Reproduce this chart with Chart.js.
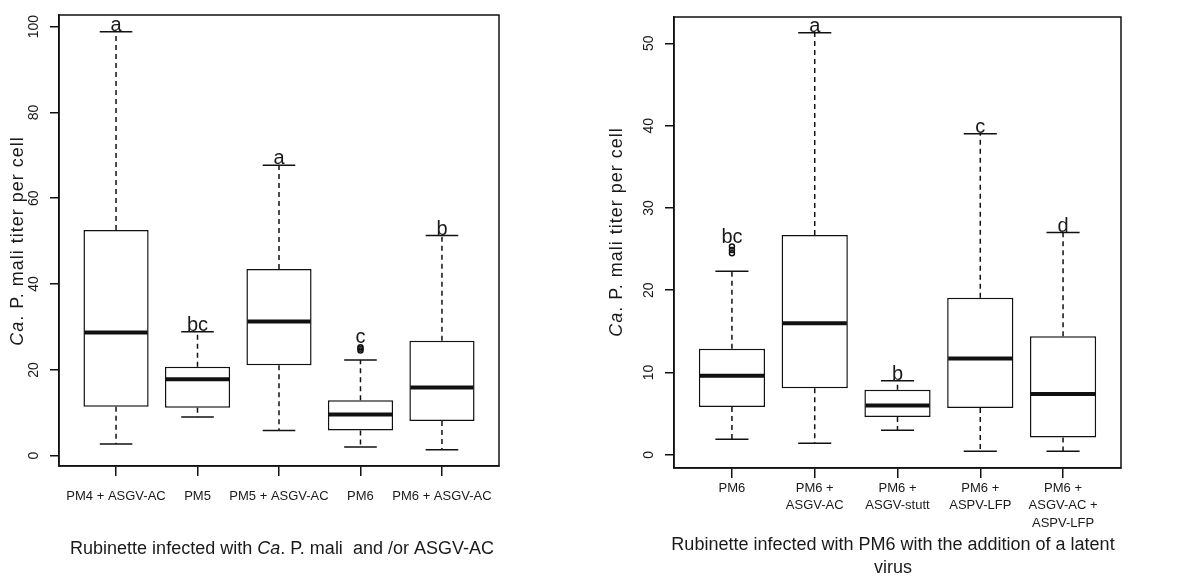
<!DOCTYPE html>
<html lang="en">
<head>
<meta charset="UTF-8">
<title>Ca. P. mali titer per cell</title>
<script src="https://cdn.jsdelivr.net/npm/chart.js"></script>
<style>
    body, html {
        margin: 0;
        padding: 0;
        background: #fff;
    }
    .panel {
        position: absolute;
        top: 0;
        height: 579px;
    }
    #left { left: 0; width: 600px; }
    #right { left: 600px; width: 593px; }
</style>
</head>
<body>
<div class="panel" id="left"><canvas id="chartLeft"></canvas></div>
<div class="panel" id="right"><canvas id="chartRight"></canvas></div>
<script>
// Left panel: Rubinette infected with Ca. P. mali and/or ASGV-AC
const leftCategories = ['PM4 + ASGV-AC', 'PM5', 'PM5 + ASGV-AC', 'PM6', 'PM6 + ASGV-AC'];
const leftLower    = [2.7, 9.0, 5.9, 2.0, 1.4];
const leftQ1       = [11.4, 11.2, 21.1, 5.9, 8.1];
const leftMedian   = [28.7, 17.8, 31.3, 9.6, 15.9];
const leftQ3       = [52.6, 20.7, 43.5, 12.9, 26.8];
const leftUpper    = [98.8, 28.9, 67.7, 22.3, 51.3];
const leftOutliers = [[], [], [], [25.3, 24.9, 24.5], []];
const leftLetters  = ['a', 'bc', 'a', 'c', 'b'];
const leftYTicks   = [0, 20, 40, 60, 80, 100];

// Right panel: PM6 with the addition of a latent virus
const rightCategories = [['PM6'], ['PM6 +', 'ASGV-AC'], ['PM6 +', 'ASGV-stutt'], ['PM6 +', 'ASPV-LFP'], ['PM6 +', 'ASGV-AC +', 'ASPV-LFP']];
const rightLower    = [1.9, 1.4, 3.0, 0.45, 0.45];
const rightQ1       = [5.8, 8.1, 4.6, 5.7, 2.1];
const rightMedian   = [9.6, 16.0, 6.0, 11.7, 7.4];
const rightQ3       = [12.9, 26.7, 7.9, 19.1, 14.4];
const rightUpper    = [22.3, 51.3, 9.0, 39.0, 27.0];
const rightOutliers = [[25.3, 24.9, 24.5], [], [], [], []];
const rightLetters  = ['bc', 'a', 'b', 'c', 'd'];
const rightYTicks   = [0, 10, 20, 30, 40, 50];

const ink = '#111111';
const family = "'Liberation Sans', Arial, sans-serif";

function drawRich(ctx, parts, x, y, angle, size, spacing) {
    ctx.save();
    ctx.translate(x, y);
    ctx.rotate(angle);
    ctx.textBaseline = 'middle';
    ctx.textAlign = 'left';
    ctx.fillStyle = '#1a1a1a';
    if ('letterSpacing' in ctx) ctx.letterSpacing = spacing + 'px';
    let total = 0;
    parts.forEach(([t, it]) => {
        ctx.font = (it ? 'italic ' : '') + size + 'px ' + family;
        total += ctx.measureText(t).width;
    });
    let pos = -total / 2;
    parts.forEach(([t, it]) => {
        ctx.font = (it ? 'italic ' : '') + size + 'px ' + family;
        ctx.fillText(t, pos, 0);
        pos += ctx.measureText(t).width;
    });
    ctx.restore();
}

const boxExtras = {
    id: 'boxExtras',
    afterDatasetsDraw(chart, args, o) {
        const {ctx, chartArea, scales: {x, y}} = chart;
        const bars = chart.getDatasetMeta(0).data;
        const line = (x1, y1, x2, y2) => {
            ctx.beginPath(); ctx.moveTo(x1, y1); ctx.lineTo(x2, y2); ctx.stroke();
        };
        ctx.save();
        ctx.strokeStyle = ink;
        ctx.fillStyle = '#1a1a1a';
        o.median.forEach((m, i) => {
            const cx = x.getPixelForValue(i + 1);
            const half = bars[i].width / 2;
            const yUp = y.getPixelForValue(o.upper[i]);
            const yLo = y.getPixelForValue(o.lower[i]);
            ctx.lineWidth = 1.5;
            // dashed whiskers
            ctx.setLineDash([5, 4]);
            line(cx, y.getPixelForValue(o.q3[i]), cx, yUp);
            line(cx, y.getPixelForValue(o.q1[i]), cx, yLo);
            ctx.setLineDash([]);
            // staples
            line(cx - half / 2, yUp, cx + half / 2, yUp);
            line(cx - half / 2, yLo, cx + half / 2, yLo);
            // median
            ctx.lineWidth = 4;
            const ym = y.getPixelForValue(m);
            line(cx - half + 1, ym, cx + half - 1, ym);
            // outliers
            ctx.lineWidth = 1.5;
            o.outliers[i].forEach(v => {
                ctx.beginPath();
                ctx.arc(cx, y.getPixelForValue(v), 2.5, 0, Math.PI * 2);
                ctx.stroke();
            });
            // significance letters
            const top = Math.max(o.upper[i], ...o.outliers[i]);
            const extra = o.outliers[i].length ? 3 : 0;
            ctx.font = '20px ' + family;
            ctx.textAlign = 'center';
            ctx.textBaseline = 'alphabetic';
            ctx.fillText(o.letters[i], cx, y.getPixelForValue(top) - 1 - extra);
        });
        ctx.lineWidth = 1.5;
        ctx.strokeRect(chartArea.left, chartArea.top, chartArea.width, chartArea.height);
        ctx.restore();
    },
    afterDraw(chart, args, o) {
        const ctx = chart.ctx;
        o.xTitle.forEach((parts, k) => drawRich(ctx, parts, o.xTitleX, o.xTitleY + k * 23, 0, 18, 0));
        drawRich(ctx, o.yTitle, o.yTitleX, o.yTitleY, -Math.PI / 2, 18, 1);
    }
};

function makeChart(id, p) {
    const ctx = document.getElementById(id).getContext('2d');
    return new Chart(ctx, {
        type: 'bar',
        data: {
            datasets: [{
                data: p.categories.map((c, i) => ({x: i + 1, y: [p.q1[i], p.q3[i]]})),
                backgroundColor: '#ffffff',
                borderColor: ink,
                borderWidth: 1.5,
                borderSkipped: false,
                barPercentage: 0.8,
                categoryPercentage: 1
            }]
        },
        options: {
            responsive: true,
            maintainAspectRatio: false,
            animation: false,
            layout: {padding: p.padding},
            plugins: {
                legend: {display: false},
                tooltip: {enabled: false},
                boxExtras: {
                    median: p.median, q1: p.q1, q3: p.q3, upper: p.upper, lower: p.lower,
                    outliers: p.outliers, letters: p.letters,
                    xTitle: p.xTitle, xTitleX: p.xTitleX, xTitleY: p.xTitleY,
                    yTitle: [['Ca', true], ['. P. mali titer per cell', false]],
                    yTitleX: p.yTitleX, yTitleY: p.yTitleY
                }
            },
            scales: {
                x: {
                    type: 'linear',
                    min: 0.3,
                    max: 5.7,
                    offset: false,
                    afterBuildTicks: s => { s.ticks = p.categories.map((c, i) => ({value: i + 1})); },
                    afterFit: s => { s.height = p.xHeight; },
                    grid: {offset: false, drawOnChartArea: false, tickLength: 10, color: ink, lineWidth: 1.5},
                    border: {display: true, color: ink, width: 1.5},
                    ticks: {
                        color: '#1a1a1a',
                        font: {family: family, size: 13, lineHeight: 1.38},
                        padding: p.xPad,
                        maxRotation: 0,
                        autoSkip: false,
                        callback: v => p.categories[v - 1]
                    }
                },
                y: {
                    min: p.yMin,
                    max: p.yMax,
                    afterBuildTicks: s => { s.ticks = p.yTicks.map(v => ({value: v})); },
                    afterFit: s => { s.width = p.yWidth; },
                    grid: {drawOnChartArea: false, tickLength: 9, color: ink, lineWidth: 1.5},
                    border: {display: true, color: ink, width: 1.5},
                    ticks: {
                        color: '#1a1a1a',
                        font: {family: family, size: 14},
                        minRotation: 90,
                        maxRotation: 90,
                        crossAlign: 'center',
                        padding: p.yPad
                    }
                }
            }
        },
        plugins: [boxExtras]
    });
}

makeChart('chartLeft', {
    categories: leftCategories, lower: leftLower, q1: leftQ1, median: leftMedian,
    q3: leftQ3, upper: leftUpper, outliers: leftOutliers, letters: leftLetters,
    yTicks: leftYTicks, yMin: -2.4, yMax: 102.7,
    padding: {left: 0, right: 101, top: 15, bottom: 0},
    xHeight: 113, yWidth: 59, xPad: 11, yPad: 4,
    xTitle: [[['Rubinette infected with ', false], ['Ca', true], ['. P. mali  and /or ASGV-AC', false]]],
    xTitleX: 282, xTitleY: 549, yTitleX: 18, yTitleY: 241
});

makeChart('chartRight', {
    categories: rightCategories, lower: rightLower, q1: rightQ1, median: rightMedian,
    q3: rightQ3, upper: rightUpper, outliers: rightOutliers, letters: rightLetters,
    yTicks: rightYTicks, yMin: -1.6, yMax: 53.2,
    padding: {left: 0, right: 72, top: 17, bottom: 0},
    xHeight: 111, yWidth: 74, xPad: 1, yPad: 8,
    xTitle: [[['Rubinette infected with PM6 with the addition of a latent', false]], [['virus', false]]],
    xTitleX: 293, xTitleY: 545, yTitleX: 17, yTitleY: 232
});
</script>
</body>
</html>
